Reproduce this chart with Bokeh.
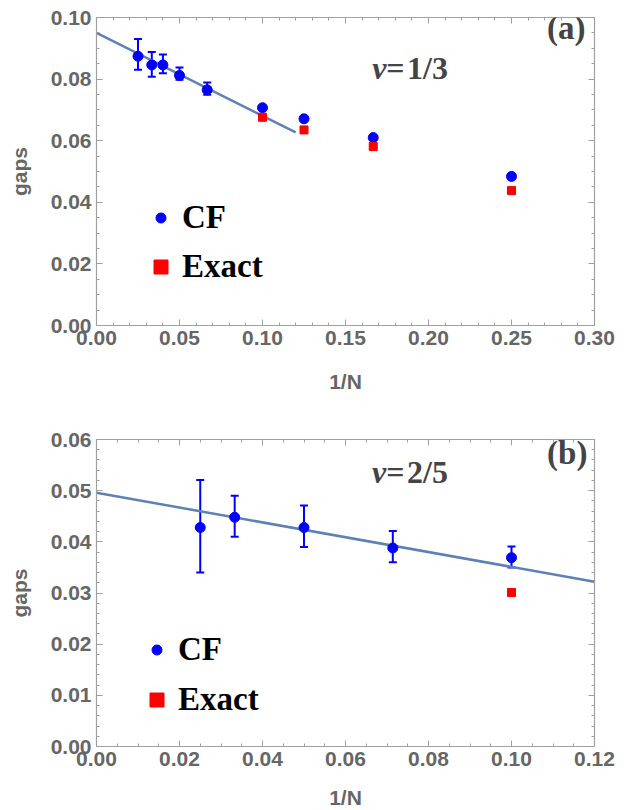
from bokeh.plotting import figure
from bokeh.models import (ColumnDataSource, Whisker, TeeHead, FixedTicker, LinearAxis,
                          Range1d, Legend, LegendItem, Label, CustomJSTickFormatter)
from bokeh.layouts import column
from bokeh.embed import file_html
from bokeh.resources import INLINE

# ---------------- data: panel (a), nu = 1/3 ----------------
a_cf_x = [0.025, 0.0333, 0.04, 0.05, 0.0667, 0.1, 0.125, 0.1667, 0.25]
a_cf_y = [0.0874, 0.0846, 0.0846, 0.0812, 0.0765, 0.0707, 0.0671, 0.0610, 0.0484]
a_err_x = [0.025, 0.0333, 0.04, 0.05, 0.0667]
a_err_up = [0.0930, 0.0888, 0.0880, 0.0838, 0.0789]
a_err_lo = [0.0830, 0.0808, 0.0819, 0.0798, 0.0749]
a_ex_x = [0.1, 0.125, 0.1667, 0.25]
a_ex_y = [0.0676, 0.0635, 0.0581, 0.0438]
a_fit_x = [0.0, 0.12]
a_fit_y = [0.0950, 0.0627]
a_xticks = [0.0, 0.05, 0.10, 0.15, 0.20, 0.25, 0.30]
a_yticks = [0.0, 0.02, 0.04, 0.06, 0.08, 0.10]

# ---------------- data: panel (b), nu = 2/5 ----------------
b_cf_x = [0.025, 0.0333, 0.05, 0.0714, 0.1]
b_cf_y = [0.0428, 0.0448, 0.0428, 0.0388, 0.0369]
b_err_up = [0.0521, 0.0490, 0.0471, 0.0421, 0.0391]
b_err_lo = [0.0340, 0.0410, 0.0390, 0.0360, 0.0350]
b_ex_x = [0.1]
b_ex_y = [0.0301]
b_fit_x = [0.0, 0.12]
b_fit_y = [0.0496, 0.0322]
b_xticks = [0.0, 0.02, 0.04, 0.06, 0.08, 0.10, 0.12]
b_yticks = [0.0, 0.01, 0.02, 0.03, 0.04, 0.05, 0.06]

FRAME = "#a0a0a0"
TXT = "#666666"
SANS = "Liberation Sans"
SERIF = "Liberation Serif"


def minor(lo, hi, step):
    n = int(round((hi - lo) / step))
    return [round(lo + i * step, 6) for i in range(n + 1)]


def style_axis(ax, major, minors, labels=True, label_standoff=14):
    ax.ticker = FixedTicker(ticks=major, minor_ticks=minors)
    ax.axis_line_color = FRAME
    ax.axis_line_width = 1.2
    ax.major_tick_line_color = FRAME
    ax.minor_tick_line_color = FRAME
    ax.major_tick_in = 6
    ax.major_tick_out = 0
    ax.minor_tick_in = 3
    ax.minor_tick_out = 0
    if labels:
        ax.formatter = CustomJSTickFormatter(code="return tick.toFixed(2);")
        ax.major_label_text_font = SANS
        ax.major_label_text_font_style = "bold"
        ax.major_label_text_font_size = "21px"
        ax.major_label_text_color = TXT
        ax.major_label_standoff = 5
        ax.axis_label_text_font = SANS
        ax.axis_label_text_font_style = "bold"
        ax.axis_label_text_font_size = "21px"
        ax.axis_label_text_color = TXT
        ax.axis_label_standoff = label_standoff
    else:
        ax.formatter = CustomJSTickFormatter(code="return '';")
        ax.major_label_text_font_size = "0px"
        ax.major_label_standoff = 0


def make_panel(xr, yr, xt, yt, xminor, yminor, frame_h, top, bottom, xlab_standoff):
    p = figure(frame_width=498, frame_height=frame_h, output_backend="svg",
               toolbar_location=None, x_range=Range1d(*xr), y_range=Range1d(*yr),
               min_border_left=96, min_border_right=33, min_border_top=top,
               min_border_bottom=bottom, x_axis_label="1/N", y_axis_label="gaps")
    p.grid.visible = False
    p.outline_line_color = None
    p.background_fill_color = "white"
    style_axis(p.xaxis[0], xt, minor(xr[0], xr[1], xminor), label_standoff=xlab_standoff)
    style_axis(p.yaxis[0], yt, minor(yr[0], yr[1], yminor), label_standoff=17)
    top_ax = LinearAxis()
    right_ax = LinearAxis()
    style_axis(top_ax, xt, minor(xr[0], xr[1], xminor), labels=False)
    style_axis(right_ax, yt, minor(yr[0], yr[1], yminor), labels=False)
    p.add_layout(top_ax, "above")
    p.add_layout(right_ax, "right")
    return p


def add_legend(p, r_cf, r_ex, cf_loc, ex_loc):
    for r, lab, g, loc, so in [(r_cf, "CF", 25, cf_loc, 9), (r_ex, "Exact", 35, ex_loc, 4)]:
        lg = Legend(items=[LegendItem(label=lab, renderers=[r])], location=loc,
                    glyph_width=g, glyph_height=g, label_standoff=so,
                    label_text_font=SERIF, label_text_font_style="bold",
                    label_text_font_size="33px", label_text_color="black",
                    border_line_color=None, background_fill_alpha=0,
                    padding=0, margin=0, spacing=0, label_height=g)
        p.add_layout(lg, "center")


def add_whisker(p, x, up, lo):
    src = ColumnDataSource(dict(x=x, up=up, lo=lo))
    p.add_layout(Whisker(base="x", upper="up", lower="lo", source=src, line_color="blue", line_width=2,
                         upper_head=TeeHead(size=8, line_color="blue", line_width=2),
                         lower_head=TeeHead(size=8, line_color="blue", line_width=2)))


def add_texts(p, nu_x, eq_x, y_nu, frac, tag_x, tag_y, tag):
    p.add_layout(Label(x=nu_x, y=y_nu, text="\u03bd", text_font=SERIF, text_font_style="bold italic",
                       text_font_size="32px", text_baseline="middle", text_align="left"))
    p.add_layout(Label(x=eq_x, y=y_nu, text="=\u200a" + frac, text_font=SERIF, text_font_style="bold",
                       text_font_size="32px", text_baseline="middle", text_align="left"))
    p.add_layout(Label(x=tag_x, y=tag_y, text=tag, text_font=SERIF, text_font_style="bold",
                       text_font_size="33px", text_baseline="middle", text_align="right"))


# ---------------- panel (a) ----------------
pa = make_panel((0.0, 0.30), (0.0, 0.10), a_xticks, a_yticks, 0.01, 0.005, 308, 17, 84, 22)
pa.line(a_fit_x, a_fit_y, line_color="#5E81B5", line_width=2.5)
add_whisker(pa, a_err_x, a_err_up, a_err_lo)
ra_cf = pa.scatter(a_cf_x, a_cf_y, size=10, color="blue")
ra_ex = pa.scatter(a_ex_x, a_ex_y, marker="square", size=8, color="red")
add_legend(pa, ra_cf, ra_ex, (52, 89), (47, 40))
add_texts(pa, 0.1661, 0.1745, 0.0835, "1/3", 0.2946, 0.0967, "(a)")

# ---------------- panel (b) ----------------
pb = make_panel((0.0, 0.12), (0.0, 0.06), b_xticks, b_yticks, 0.005, 0.002, 307, 30, 64, 17)
pb.line(b_fit_x, b_fit_y, line_color="#5E81B5", line_width=2.5)
add_whisker(pb, b_cf_x, b_err_up, b_err_lo)
rb_cf = pb.scatter(b_cf_x, b_cf_y, size=10, color="blue")
rb_ex = pb.scatter(b_ex_x, b_ex_y, marker="square", size=8, color="red")
add_legend(pb, rb_cf, rb_ex, (48, 78), (43, 28))
add_texts(pb, 0.0664, 0.0698, 0.0537, "2/5", 0.1183, 0.0574, "(b)")

layout = column(pa, pb, spacing=0)
open("out.html", "w").write(file_html(layout, INLINE))
